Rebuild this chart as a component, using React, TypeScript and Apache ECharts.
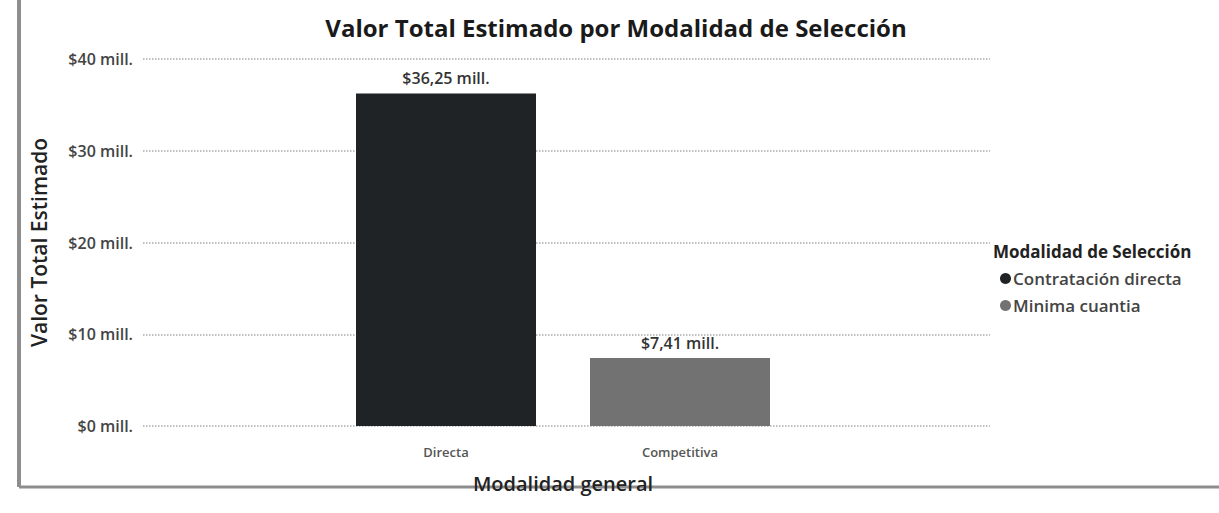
import React, { useEffect, useRef } from "react";
import * as echarts from "echarts";

const categories = ["Directa", "Competitiva"];
const seriesNames = ["Contratación directa", "Minima cuantia"];
const directaValues = [36.25, null];
const minimaValues = [null, 7.41];
const yTicks = [0, 10, 20, 30, 40];

const fmtMill = (v: number) => "$" + String(v).replace(".", ",") + " mill.";

export default function App() {
  const ref = useRef<HTMLDivElement>(null);
  useEffect(() => {
    const chart = echarts.init(ref.current!, null, { renderer: "svg" });
    const font = "'Open Sans', 'Noto Sans', sans-serif";
    const valueLabel = {
      show: true,
      position: "top",
      distance: 7,
      formatter: (p: any) => fmtMill(p.value),
      fontSize: 16,
      fontWeight: 600,
      color: "#333",
      fontFamily: font,
    };
    chart.setOption({
      animation: false,
      backgroundColor: "#ffffff",
      textStyle: { fontFamily: font },
      title: {
        text: "Valor Total Estimado por Modalidad de Selección",
        left: 611,
        textAlign: "center",
        top: 10,
        textStyle: { fontSize: 24, fontWeight: "bold", color: "#1a1a1a", fontFamily: font },
      },
      grid: [
        { left: 143, right: 229, top: 59, bottom: 87 },
        { left: 329, width: 468, top: 59, bottom: 87 },
      ],
      xAxis: [
        { gridIndex: 0, type: "value", show: false, min: 0, max: 1 },
        {
          gridIndex: 1,
          type: "category",
          data: categories,
          axisLine: { show: false },
          axisTick: { show: false },
          axisLabel: { fontSize: 13, fontWeight: 600, color: "#555", margin: 19, fontFamily: font },
          name: "Modalidad general",
          nameLocation: "middle",
          nameGap: 47,
          nameTextStyle: { fontSize: 20, fontWeight: 600, color: "#222", fontFamily: font },
        },
      ],
      yAxis: [
        {
          gridIndex: 0,
          type: "value",
          min: yTicks[0],
          max: yTicks[yTicks.length - 1],
          interval: 10,
          axisLine: { show: false },
          axisTick: { show: false },
          axisLabel: {
            formatter: (v: number) => fmtMill(v),
            fontSize: 16,
            fontWeight: 600,
            color: "#444",
            margin: 10,
            fontFamily: font,
          },
          splitLine: { lineStyle: { type: "dotted", color: "#aaa", width: 1.5 } },
          name: "Valor Total Estimado",
          nameLocation: "middle",
          nameGap: 94,
          nameTextStyle: { fontSize: 21, fontWeight: 600, color: "#222", fontFamily: font },
        },
        {
          gridIndex: 1,
          type: "value",
          min: yTicks[0],
          max: yTicks[yTicks.length - 1],
          interval: 10,
          show: false,
        },
      ],
      legend: {
        orient: "vertical",
        left: 995,
        top: 265,
        icon: "circle",
        itemWidth: 11,
        itemHeight: 11,
        itemGap: 10,
        data: seriesNames,
        textStyle: { fontSize: 17, fontWeight: 600, color: "#444", fontFamily: font, padding: [0, 0, 0, -3] },
      },
      graphic: [
        {
          type: "text",
          left: 993,
          top: 243,
          style: {
            text: "Modalidad de Selección",
            font: "bold 17px " + font,
            fill: "#222",
          },
        },
        {
          type: "line",
          shape: { x1: 19, y1: 0, x2: 19, y2: 487 },
          style: { stroke: "#8e8e8e", lineWidth: 4 },
        },
        {
          type: "line",
          shape: { x1: 19, y1: 487, x2: 1219, y2: 487 },
          style: { stroke: "#8e8e8e", lineWidth: 3 },
        },
      ],
      series: [
        {
          name: seriesNames[0],
          type: "bar",
          xAxisIndex: 1,
          yAxisIndex: 1,
          stack: "a",
          barWidth: 180,
          data: directaValues,
          itemStyle: { color: "#1f2326" },
          label: valueLabel,
        },
        {
          name: seriesNames[1],
          type: "bar",
          xAxisIndex: 1,
          yAxisIndex: 1,
          stack: "a",
          barWidth: 180,
          data: minimaValues,
          itemStyle: { color: "#727272" },
          label: valueLabel,
        },
      ],
    });
    return () => chart.dispose();
  }, []);
  return (
    <div
      ref={ref}
      style={{ position: "absolute", left: 0, top: 0, width: 1219, height: 513 }}
    />
  );
}
